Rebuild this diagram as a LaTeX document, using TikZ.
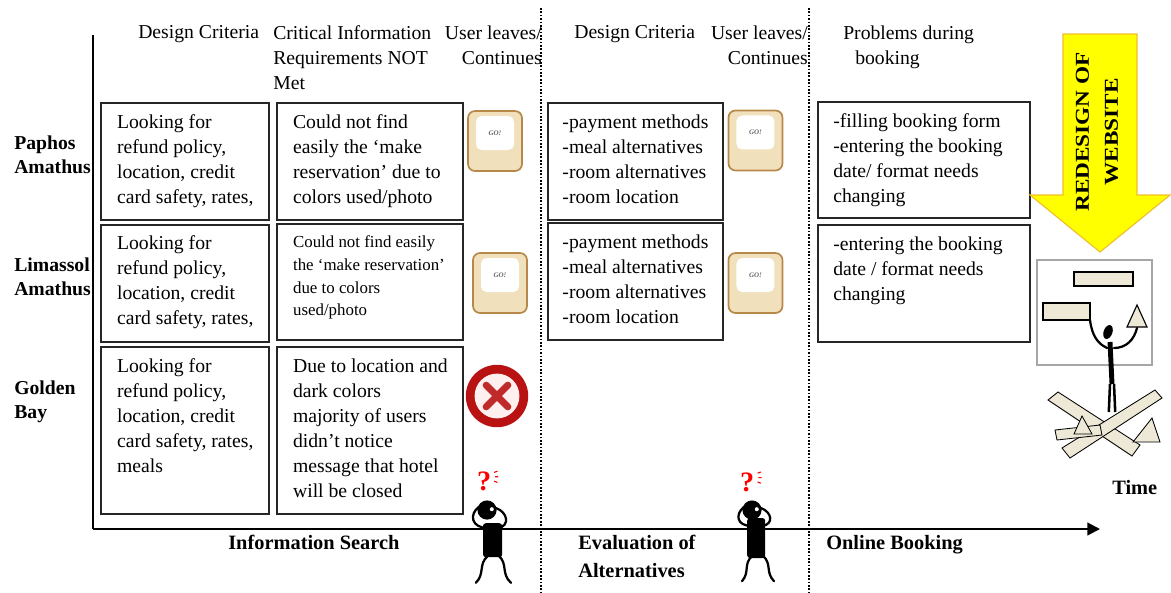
\documentclass[tikz,border=0pt]{standalone}
\usepackage{fontspec}
\setmainfont{Liberation Serif}
\usetikzlibrary{arrows.meta}

\definecolor{keyface}{RGB}{240,224,188}
\definecolor{keyedge}{RGB}{184,136,74}
\definecolor{planks}{RGB}{238,232,214}
\definecolor{stopred}{RGB}{185,18,18}
\definecolor{signyellow}{RGB}{255,255,0}
\definecolor{signedge}{RGB}{240,190,40}

\begin{document}
\begin{tikzpicture}[
        cell/.style={draw=black!85, line width=1.1pt, anchor=north west, inner sep=0pt},
        celltext/.style={anchor=north west, align=left, inner sep=0pt, font=\fontsize{14}{17.8}\selectfont},
        colhead/.style={anchor=north west, align=left, inner sep=0pt, font=\fontsize{14}{17.8}\selectfont},
        rowname/.style={anchor=north west, align=left, inner sep=0pt, font=\bfseries\fontsize{14}{17}\selectfont},
        stage/.style={anchor=north west, align=left, inner sep=0pt, font=\bfseries\fontsize{14.5}{19.8}\selectfont},
        gokey/.style={draw=keyedge, fill=keyface, line width=1.2pt, rounded corners=5pt, minimum width=1.35cm, minimum height=1.5cm},
        gocap/.style={fill=white, rounded corners=4pt, minimum width=0.95cm, minimum height=0.85cm, text=black!60, font=\bfseries\itshape\fontsize{5}{5}\selectfont},
        qmark/.style={text=red, inner sep=0pt, font=\bfseries\fontsize{20}{20}\selectfont},
        limb/.style={line width=1.6pt, line cap=round},
        junk/.style={fill=planks, draw=black, line width=0.6pt}
        ]
    \useasboundingbox (0,0) rectangle (29.275,-14.8);

    % Axes and phase separators
    \coordinate (top) at (2.325,-0.875);
    \coordinate (origin) at (2.325,-13.225);
    \coordinate (tip) at (27.5,-13.225);
    \coordinate (sep1a) at (13.525,-0.2);
    \coordinate (sep1b) at (13.525,-14.8);
    \coordinate (sep2a) at (20.225,-0.2);
    \coordinate (sep2b) at (20.225,-14.8);

    \draw[line width=1.1pt] (top) -- (origin);
    \draw[line width=1.5pt, -{Triangle[length=9pt, width=9pt]}] (origin) -- (tip);
    \draw[line width=1.3pt, dash pattern=on 1.2pt off 1.2pt] (sep1a) -- (sep1b);
    \draw[line width=1.3pt, dash pattern=on 1.2pt off 1.2pt] (sep2a) -- (sep2b);

    % Column headers
    \node[colhead] (h-crit1) at (3.45,-0.64) {Design Criteria};
    \node[colhead] (h-req) at (6.825,-0.64) {Critical Information\\Requirements NOT\\Met};
    \node[colhead, anchor=north east, align=right] (h-user1) at (13.55,-0.64) {User leaves/\\Continues};
    \node[colhead] (h-crit2) at (14.35,-0.64) {Design Criteria};
    \node[colhead, anchor=north east, align=right] (h-user2) at (20.2,-0.64) {User leaves/\\Continues};
    \node[colhead] (h-prob) at (21.075,-0.64) {Problems during\\\hspace*{0.3cm}booking};

    % Hotels
    \node[rowname] (paphos) at (0.35,-3.385) {Paphos\\Amathus};
    \node[rowname] (limassol) at (0.35,-6.435) {Limassol\\Amathus};
    \node[rowname] (golden) at (0.35,-9.51) {Golden\\Bay};

    % Cells of the information search phase
    \node[cell, minimum width=4.2cm, minimum height=2.925cm] (pa-crit) at (2.5,-2.55) {};
    \node[cell, minimum width=4.2cm, minimum height=2.925cm] (li-crit) at (2.5,-5.6) {};
    \node[cell, minimum width=4.2cm, minimum height=4.175cm] (go-crit) at (2.5,-8.65) {};
    \node[cell, minimum width=4.65cm, minimum height=2.925cm] (pa-req) at (6.9,-2.55) {};
    \node[cell, minimum width=4.65cm, minimum height=2.9cm] (li-req) at (6.9,-5.575) {};
    \node[cell, minimum width=4.65cm, minimum height=4.175cm] (go-req) at (6.9,-8.65) {};

    \node[celltext] (pa-crit-t) at ([shift={(0.42,-0.315)}]pa-crit.north west) {Looking for\\refund policy,\\location, credit\\card safety, rates,};
    \node[celltext] (li-crit-t) at ([shift={(0.42,-0.29)}]li-crit.north west) {Looking for\\refund policy,\\location, credit\\card safety, rates,};
    \node[celltext] (go-crit-t) at ([shift={(0.42,-0.315)}]go-crit.north west) {Looking for\\refund policy,\\location, credit\\card safety, rates,\\meals};
    \node[celltext] (pa-req-t) at ([shift={(0.42,-0.315)}]pa-req.north west) {Could not find\\easily the ‘make\\reservation’ due to\\colors used/photo};
    \node[celltext, font=\fontsize{12}{16.2}\selectfont] (li-req-t) at ([shift={(0.42,-0.31)}]li-req.north west) {Could not find easily\\the ‘make reservation’\\due to colors\\used/photo};
    \node[celltext] (go-req-t) at ([shift={(0.42,-0.315)}]go-req.north west) {Due to location and\\dark colors\\majority of users\\didn’t notice\\message that hotel\\will be closed};

    % Cells of the evaluation phase
    \node[cell, minimum width=4.375cm, minimum height=2.925cm] (pa-eval) at (13.675,-2.55) {};
    \node[cell, minimum width=4.375cm, minimum height=2.925cm] (li-eval) at (13.675,-5.55) {};
    \node[celltext] (pa-eval-t) at ([shift={(0.38,-0.315)}]pa-eval.north west) {-payment methods\\-meal alternatives\\-room alternatives\\-room location};
    \node[celltext] (li-eval-t) at ([shift={(0.38,-0.315)}]li-eval.north west) {-payment methods\\-meal alternatives\\-room alternatives\\-room location};

    % Cells of the booking phase
    \node[cell, minimum width=5.3cm, minimum height=2.9cm] (pa-prob) at (20.425,-2.525) {};
    \node[cell, minimum width=5.3cm, minimum height=2.925cm] (li-prob) at (20.425,-5.6) {};
    \node[celltext] (pa-prob-t) at ([shift={(0.4,-0.315)}]pa-prob.north west) {-filling booking form\\-entering the booking\\date/ format needs\\changing};
    \node[celltext] (li-prob-t) at ([shift={(0.4,-0.315)}]li-prob.north west) {-entering the booking\\date / format needs\\changing};

    % Keys: the user continues
    \node[gokey] (go-pa1) at (12.375,-3.525) {};
    \node[gocap] (go-pa1-c) at ([yshift=0.2cm]go-pa1.center) {GO!};
    \node[gokey] (go-li1) at (12.5,-7.075) {};
    \node[gocap] (go-li1-c) at ([yshift=0.2cm]go-li1.center) {GO!};
    \node[gokey] (go-pa2) at (18.887,-3.512) {};
    \node[gocap] (go-pa2-c) at ([yshift=0.2cm]go-pa2.center) {GO!};
    \node[gokey] (go-li2) at (18.887,-7.075) {};
    \node[gocap] (go-li2-c) at ([yshift=0.2cm]go-li2.center) {GO!};

    % Stop sign: the user leaves
    \coordinate (stop) at (12.425,-9.9);
    \fill[stopred] (stop) circle (0.78);
    \fill[red!6] (stop) circle (0.56);
    \draw[stopred!90, line width=5pt, line cap=round] ([shift={(-0.27,0.27)}]stop) -- ([shift={(0.27,-0.27)}]stop);
    \draw[stopred!90, line width=5pt, line cap=round] ([shift={(-0.27,-0.27)}]stop) -- ([shift={(0.27,0.27)}]stop);

    % Puzzled users between the phases
    \begin{scope}[shift={(12.175,-12.75)}]
        \fill (0,0) circle (0.24);
        \fill[rounded corners=2pt] (-0.1,-0.33) rectangle (0.38,-1.18);
        \draw[limb] (0.02,-0.45) .. controls (-0.4,-0.45) and (-0.45,-0.1) .. (-0.2,0.08);
        \draw[limb] (0.28,-0.45) .. controls (0.58,-0.4) and (0.52,-0.05) .. (0.22,0.05);
        \draw[limb] (0.02,-1.15) .. controls (-0.22,-1.35) and (-0.05,-1.6) .. (-0.28,-1.82);
        \draw[limb] (0.3,-1.15) .. controls (0.52,-1.35) and (0.35,-1.6) .. (0.6,-1.82);
        \fill[white] (0.12,0.02) circle (0.05);
        \node[qmark] (q1) at (-0.07,0.72) {?};
        \draw[red, line width=0.8pt] (0.18,0.94) -- (0.26,0.97) (0.2,0.83) -- (0.28,0.83) (0.18,0.72) -- (0.26,0.69);
    \end{scope}
    \begin{scope}[shift={(18.8,-12.75)}]
        \fill (0,0) circle (0.24);
        \fill[rounded corners=2pt] (-0.12,-0.2) rectangle (0.33,-1.2);
        \draw[limb] (0.0,-0.4) .. controls (-0.4,-0.4) and (-0.42,-0.1) .. (-0.2,0.08);
        \draw[limb] (0.26,-0.4) .. controls (0.55,-0.35) and (0.5,-0.05) .. (0.22,0.05);
        \draw[limb] (0.0,-1.15) .. controls (-0.22,-1.35) and (-0.05,-1.55) .. (-0.25,-1.78);
        \draw[limb] (0.28,-1.15) .. controls (0.5,-1.35) and (0.33,-1.55) .. (0.55,-1.78);
        \fill[white] (0.12,0.02) circle (0.05);
        \node[qmark] (q2) at (-0.12,0.7) {?};
        \draw[red, line width=0.8pt] (0.14,0.92) -- (0.22,0.95) (0.16,0.81) -- (0.24,0.81) (0.14,0.7) -- (0.22,0.67);
    \end{scope}

    % Phase names and time
    \node[stage] (search) at (5.7,-13.373) {Information Search};
    \node[stage] (evaluation) at (14.45,-13.373) {Evaluation of\\Alternatives};
    \node[stage] (booking) at (20.65,-13.373) {Online Booking};
    \node[stage] (time) at (27.8,-12.0) {Time};

    % Redesign arrow
    \fill[signyellow, draw=signedge, line width=0.8pt] (26.575,-0.85) -- (28.425,-0.85) -- (28.425,-4.875)
        -- (29.25,-4.875) -- (27.5,-6.3) -- (25.75,-4.875) -- (26.575,-4.875) -- cycle;
    \node[rotate=90, xscale=1.18, align=center, inner sep=0pt, font=\bfseries\fontsize{14}{20.6}\selectfont] (redesign) at (27.425,-3.3) {REDESIGN OF\\WEBSITE};

    % Rebuilding the website
    \draw[gray!70, line width=1pt] (25.925,-6.5) rectangle (28.8,-9.125);
    \filldraw[junk, line width=0.8pt] (26.85,-6.8) rectangle (28.325,-7.15);
    \filldraw[junk, line width=0.8pt] (26.075,-7.575) rectangle (27.25,-8.0);
    \filldraw[junk, line width=0.8pt] (28.175,-8.175) -- (28.675,-8.175) -- (28.425,-7.625) -- cycle;
    \fill[rotate around={-20:(27.7,-8.3)}] (27.7,-8.3) ellipse (0.11 and 0.18);
    \draw[line width=3.5pt] (27.75,-8.55) -- (27.8,-9.6);
    \draw[line width=1.8pt] (27.75,-9.6) -- (27.72,-10.3);
    \draw[line width=1.8pt] (27.85,-9.6) -- (27.88,-10.3);
    \draw[limb] (27.68,-8.7) .. controls (27.45,-8.6) and (27.3,-8.4) .. (27.25,-8.0);
    \draw[limb] (27.85,-8.7) .. controls (28.15,-8.7) and (28.35,-8.5) .. (28.425,-8.2);
    \filldraw[junk] (26.2,-10.0) -- (26.45,-9.8) -- (28.5,-11.125) -- (28.3,-11.4) -- cycle;
    \filldraw[junk] (26.55,-11.2) -- (28.875,-9.75) -- (29.05,-9.95) -- (26.75,-11.45) -- cycle;
    \filldraw[junk] (26.375,-10.75) -- (27.5,-10.625) -- (27.55,-10.875) -- (26.425,-11.0) -- cycle;
    \filldraw[junk] (28.325,-11.05) -- (29.0,-11.05) -- (28.8,-10.45) -- cycle;
    \filldraw[junk] (26.85,-10.85) -- (27.3,-10.85) -- (27.05,-10.4) -- cycle;

\end{tikzpicture}
\end{document}
